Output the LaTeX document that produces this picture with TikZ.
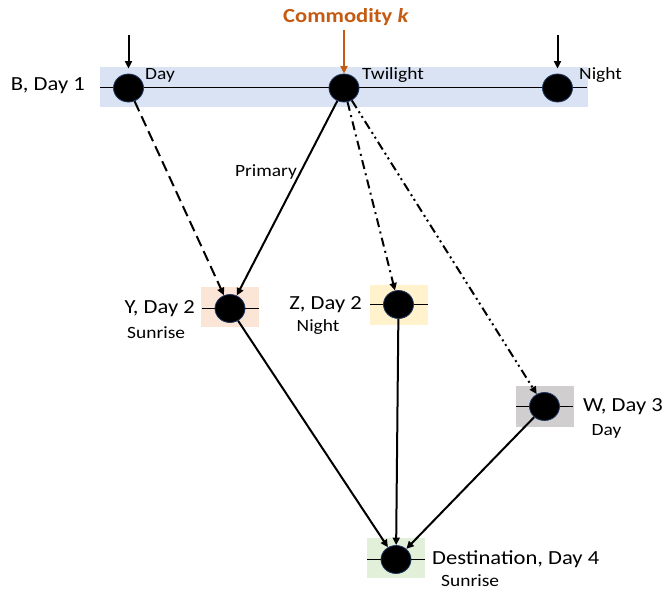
\documentclass[tikz,border=0pt]{standalone}
\usepackage{fontspec}
\setmainfont{Carlito}[FakeStretch=1.13]
\usetikzlibrary{arrows.meta,shapes.geometric}
\definecolor{bandblue}{HTML}{DAE3F3}
\definecolor{ypeach}{HTML}{FBE5D6}
\definecolor{zyellow}{HTML}{FFF2CC}
\definecolor{wgrey}{HTML}{D0CECE}
\definecolor{dgreen}{HTML}{E2F0D9}
\definecolor{korange}{HTML}{C55A11}
\definecolor{rimblue}{HTML}{203864}
\begin{document}
\begin{tikzpicture}[x=1pt,y=-1pt,
  dot/.style={ellipse, fill=black, draw=rimblue, line width=0.8pt,
    minimum width=30pt, minimum height=28pt, inner sep=0pt},
  bigl/.style={font=\fontsize{20}{23}\selectfont, inner sep=0pt},
  smalll/.style={font=\fontsize{17.2}{20}\selectfont, inner sep=0pt},
  edge/.style={line width=2pt, -{Triangle[length=7.5pt,width=7pt]}},
  thin line/.style={line width=1.9pt},
  dashA/.style={dash pattern=on 11pt off 5.5pt},
  dashB/.style={dash pattern=on 9pt off 4.5pt on 2pt off 4.5pt},
  dashC/.style={dash pattern=on 9pt off 4pt on 2pt off 3.5pt on 2pt off 4pt}
]
\useasboundingbox (0,0) rectangle (662,592);
% backgrounds
\fill[bandblue] (99.5,67) rectangle (588,107);
\fill[ypeach] (201,287) rectangle (259,327);
\fill[zyellow] (369.5,285) rectangle (428,324.5);
\fill[wgrey] (515.5,386) rectangle (573.5,426.5);
\fill[dgreen] (366.5,538) rectangle (425,578);
% horizontal time lines
\draw[thin line] (100,87.5) -- (587,87.5);
\draw[thin line] (201.5,308.5) -- (258.5,308.5);
\draw[thin line] (370,304.5) -- (427.5,304.5);
\draw[thin line] (516,406.5) -- (573,406.5);
\draw[thin line] (367,559.5) -- (424.5,559.5);
% nodes
\node[dot] (d1) at (128.5,88) {};
\node[dot] (tw) at (344,88) {};
\node[dot] (ni) at (557.5,88) {};
\node[dot] (yn) at (230,308.5) {};
\node[dot] (zn) at (398.5,304.5) {};
\node[dot] (wn) at (544.5,406.5) {};
\node[dot] (de) at (396,559.5) {};
% labels
\node[bigl, anchor=east] (lb) at (85,86) {B, Day 1};
\node[smalll, anchor=west] (lday) at (145,75.5) {Day};
\node[smalll, anchor=west] (ltw) at (362,75.5) {Twilight};
\node[smalll, anchor=west] (lni) at (579,75.5) {Night};
\node[font=\fontsize{20}{23}\selectfont\bfseries, text=korange, inner sep=0pt] (lk) at (346,17) {Commodity \textit{k}};
\node[bigl, anchor=east] (ly) at (195,309) {Y, Day 2};
\node[smalll, anchor=west] (lys) at (127,333) {Sunrise};
\node[bigl, anchor=east] (lz) at (362,305) {Z, Day 2};
\node[smalll, anchor=west] (lzn) at (296.5,327) {Night};
\node[bigl, anchor=west] (lw) at (583,407) {W, Day 3};
\node[smalll, anchor=west] (lwd) at (591.5,431) {Day};
\node[bigl, anchor=west] (lde) at (432,559) {Destination, Day 4};
\node[smalll, anchor=west] (ldes) at (441,581) {Sunrise};
\node[smalll, anchor=east] (lp) at (297,172) {Primary};
% incoming arrows
\coordinate (a1) at (128.5,35);
\coordinate (a2) at (557.5,35);
\coordinate (ak) at (344,30);
\draw[edge, shorten >=5pt] (a1) -- (d1);
\draw[edge, shorten >=5pt] (a2) -- (ni);
\draw[edge, korange, line width=2.4pt] (ak) -- (tw);
% edges
\draw[edge, dashA] (d1) -- (yn);
\draw[edge] (tw) -- (yn);
\draw[edge, dashB] (tw) -- (zn);
\draw[edge, dashC] (tw) -- (wn);
\draw[edge] (yn) -- (de);
\draw[edge] (zn) -- (de);
\draw[edge] (wn) -- (de);
\end{tikzpicture}
\end{document}
